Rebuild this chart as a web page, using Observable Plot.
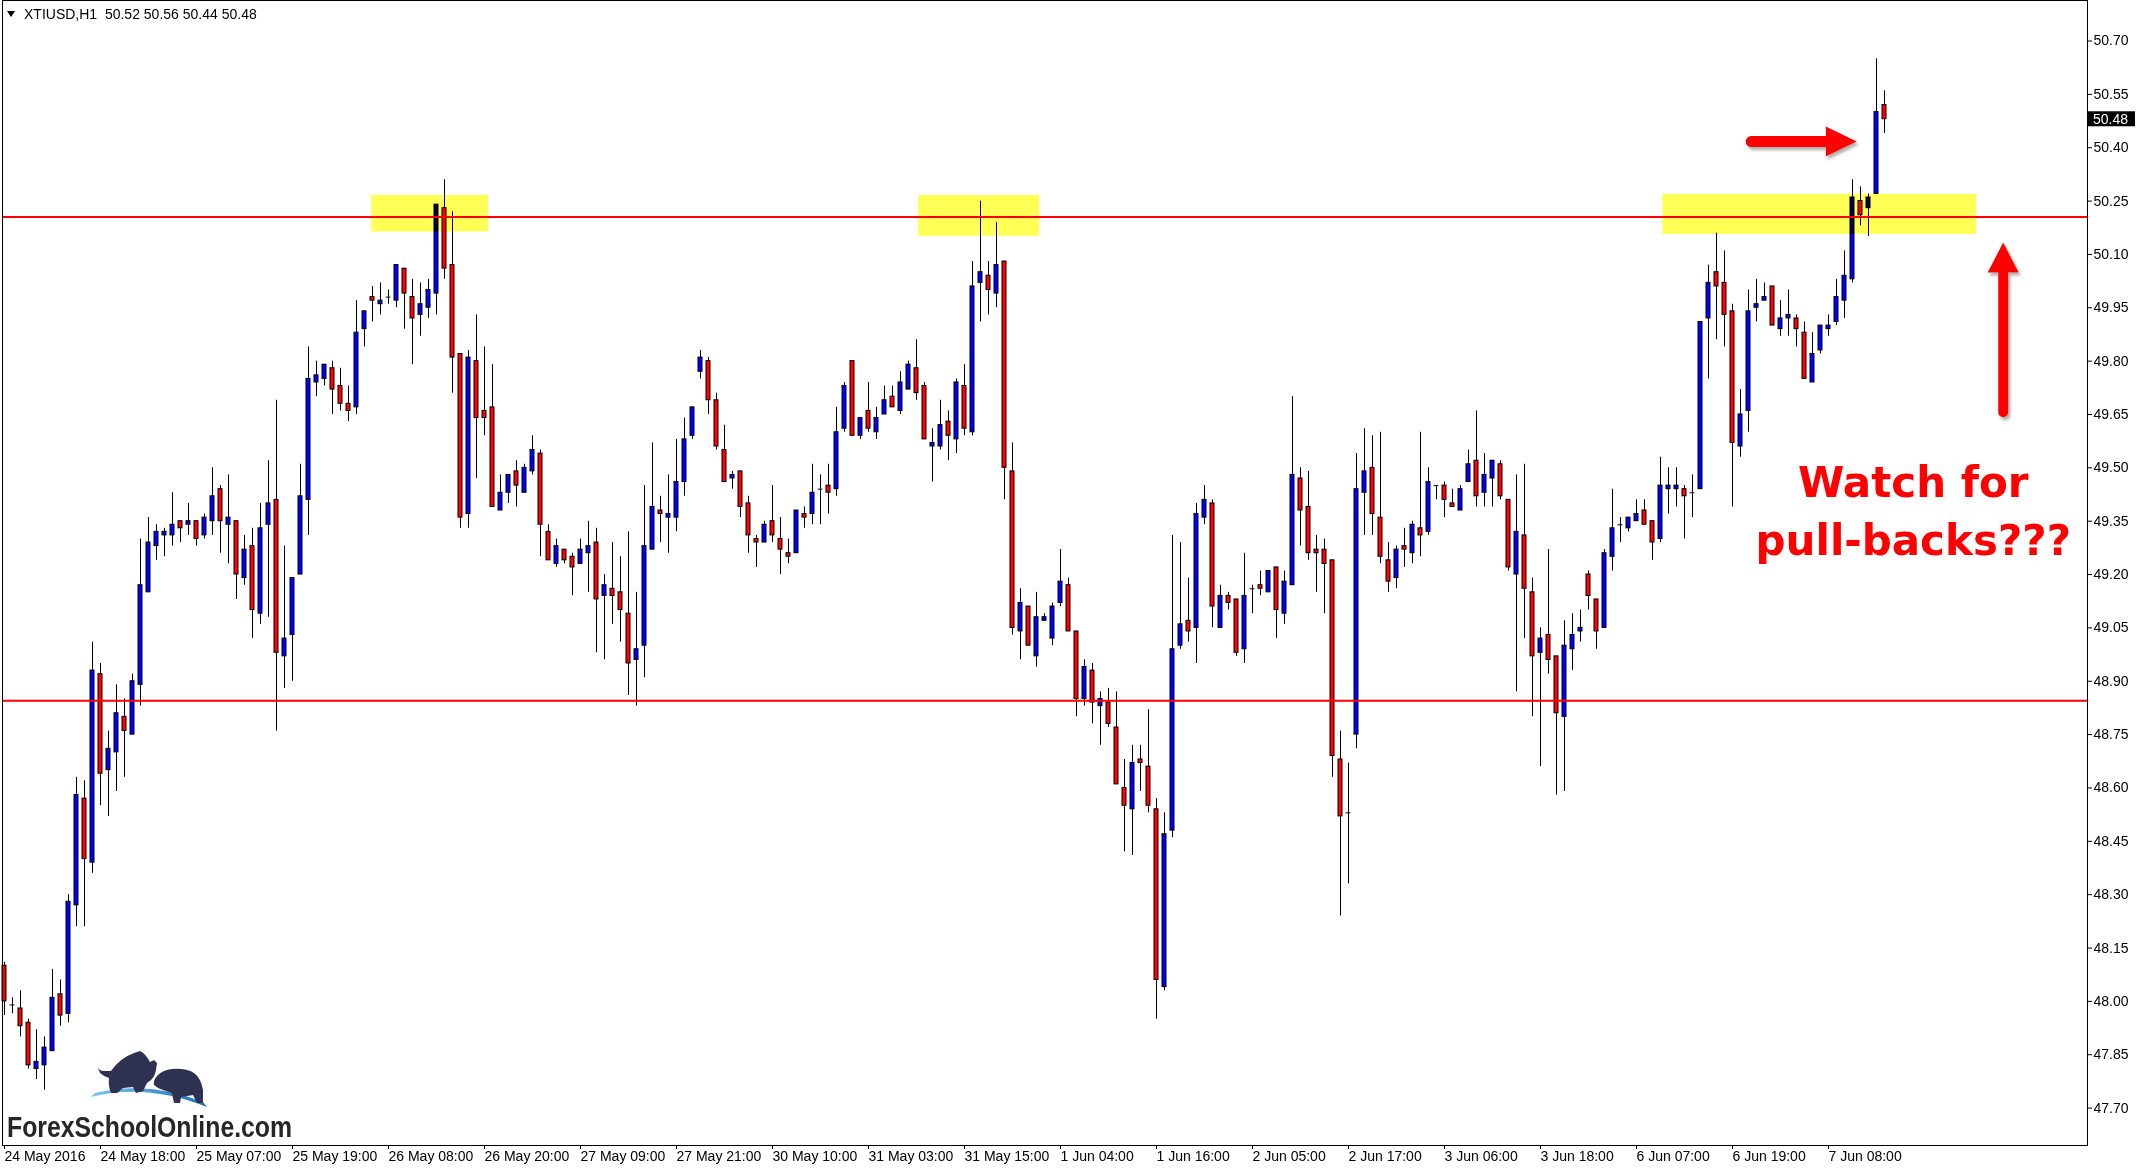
<!DOCTYPE html>
<html>
<head>
<meta charset="utf-8">
<script src="https://cdn.jsdelivr.net/npm/d3@7"></script>
<script src="https://cdn.jsdelivr.net/npm/@observablehq/plot@0.6"></script>
<style>
html,body{margin:0;padding:0;background:#fff;}
#chart{position:relative;width:2138px;height:1171px;overflow:hidden;background:#fff;}
</style>
</head>
<body>
<div id="chart"></div>
<script>
// ---- data (XTIUSD, H1) : one entry per hourly bar, index 0 = 24 May 2016 00:00 ----
const symbol = "XTIUSD,H1";
const open = [
48.10,47.99,47.98,47.94,47.81,47.82,47.86,48.02,47.965,48.27,
48.57,48.39,48.92,48.65,48.70,48.80,48.75,48.89,49.15,49.28,
49.31,49.31,49.35,49.34,49.35,49.31,49.35,49.44,49.34,49.35,
49.19,49.28,49.09,49.34,49.41,48.97,49.03,49.20,49.41,49.74,
49.75,49.78,49.73,49.68,49.67,49.89,49.98,49.96,49.98,49.97,
50.06,49.98,49.93,49.95,49.99,50.23,50.07,49.82,49.37,49.80,
49.66,49.67,49.38,49.43,49.49,49.43,49.49,49.54,49.32,49.23,
49.27,49.25,49.23,49.26,49.29,49.14,49.16,49.15,49.09,48.96,
49.00,49.27,49.38,49.36,49.36,49.46,49.59,49.77,49.80,49.69,
49.55,49.47,49.49,49.40,49.30,49.29,49.35,49.30,49.26,49.26,
49.37,49.37,49.44,49.45,49.44,49.61,49.80,49.59,49.66,49.60,
49.65,49.70,49.66,49.72,49.78,49.73,49.56,49.56,49.63,49.58,
49.73,49.60,50.02,50.04,49.99,50.08,49.49,49.04,49.11,48.97,
49.07,49.02,49.12,49.17,49.04,48.85,48.93,48.83,48.84,48.77,
48.60,48.54,48.68,48.66,48.54,48.04,48.48,49.00,49.07,49.05,
49.36,49.40,49.05,49.14,49.13,48.99,49.16,49.17,49.15,49.22,
49.09,49.17,49.47,49.39,49.27,49.27,49.24,48.68,48.53,48.75,
49.43,49.50,49.36,49.24,49.19,49.28,49.26,49.33,49.32,49.45,
49.45,49.40,49.38,49.46,49.52,49.43,49.47,49.51,49.41,49.20,
49.31,49.15,48.98,49.03,48.97,48.80,48.99,49.04,49.20,49.13,
49.05,49.25,49.34,49.33,49.35,49.38,49.35,49.30,49.44,49.44,
49.44,49.43,49.44,49.92,50.05,50.02,49.94,49.56,49.66,49.95,
49.97,50.01,49.89,49.92,49.92,49.88,49.74,49.83,49.89,49.91,
49.97,50.03,50.25,50.23,50.27,50.52];
const high = [
48.11,48.01,48.03,47.95,47.92,47.90,48.09,48.06,48.30,48.63,
48.62,49.01,48.95,48.76,48.89,48.85,48.92,49.30,49.36,49.34,
49.33,49.43,49.35,49.40,49.35,49.37,49.50,49.45,49.48,49.35,
49.31,49.33,49.40,49.52,49.69,49.28,49.19,49.51,49.84,49.80,
49.79,49.80,49.78,49.73,49.97,49.94,50.01,50.02,50.00,50.07,
50.06,50.03,50.02,50.03,50.24,50.31,50.22,49.82,49.83,49.93,
49.84,49.79,49.48,49.48,49.52,49.51,49.59,49.55,49.34,49.30,
49.27,49.26,49.30,49.35,49.33,49.20,49.29,49.25,49.32,49.15,
49.45,49.57,49.42,49.48,49.58,49.64,49.67,49.83,49.81,49.71,
49.62,49.49,49.49,49.42,49.31,49.35,49.45,49.36,49.30,49.38,
49.39,49.51,49.48,49.51,49.67,49.74,49.80,49.64,49.74,49.67,
49.73,49.73,49.77,49.80,49.86,49.74,49.61,49.69,49.66,49.75,
49.79,50.08,50.25,50.08,50.19,50.08,49.57,49.16,49.11,49.15,
49.09,49.12,49.27,49.19,49.04,48.96,48.95,48.87,48.88,48.87,
48.68,48.72,48.72,48.82,48.57,48.53,49.31,49.29,49.19,49.40,
49.45,49.41,49.17,49.15,49.13,49.26,49.17,49.21,49.21,49.22,
49.21,49.70,49.50,49.49,49.31,49.30,49.24,48.76,48.67,49.54,
49.61,49.59,49.60,49.29,49.28,49.33,49.35,49.60,49.50,49.45,
49.46,49.44,49.45,49.55,49.66,49.54,49.52,49.52,49.41,49.48,
49.51,49.19,49.05,49.27,48.97,49.07,49.09,49.10,49.21,49.13,
49.27,49.44,49.36,49.36,49.41,49.41,49.35,49.53,49.50,49.50,
49.45,49.48,49.91,50.07,50.16,50.11,49.96,49.72,50.00,50.03,
50.02,50.01,49.97,50.00,49.93,49.91,49.88,49.90,49.93,50.03,
50.11,50.31,50.29,50.27,50.65,50.56];
const low = [
47.96,47.965,47.90,47.81,47.78,47.75,47.86,47.93,47.94,48.21,
48.21,48.36,48.55,48.52,48.59,48.63,48.75,48.83,49.15,49.24,
49.25,49.28,49.29,49.31,49.28,49.30,49.31,49.26,49.23,49.13,
49.17,49.02,49.06,49.08,48.76,48.88,48.90,49.20,49.31,49.70,
49.73,49.65,49.66,49.63,49.65,49.84,49.91,49.93,49.96,49.95,
49.89,49.79,49.87,49.92,49.93,50.03,49.71,49.33,49.33,49.47,
49.59,49.39,49.38,49.40,49.39,49.43,49.48,49.25,49.24,49.22,
49.23,49.14,49.23,49.15,48.98,48.96,49.06,49.01,48.86,48.83,
48.91,49.27,49.29,49.26,49.32,49.42,49.58,49.75,49.65,49.55,
49.46,49.44,49.36,49.26,49.22,49.29,49.29,49.20,49.23,49.26,
49.33,49.34,49.34,49.37,49.42,49.60,49.59,49.58,49.60,49.58,
49.65,49.67,49.65,49.72,49.69,49.58,49.46,49.55,49.52,49.54,
49.59,49.59,49.91,49.93,49.95,49.41,49.03,48.96,49.00,48.94,
49.07,49.00,49.11,49.04,48.80,48.83,48.78,48.72,48.77,48.61,
48.42,48.41,48.59,48.53,47.95,48.03,48.46,48.99,49.01,48.95,
49.34,49.05,49.05,49.10,48.97,48.95,49.09,49.14,49.15,49.02,
49.06,49.17,49.28,49.24,49.15,49.09,48.63,48.24,48.33,48.71,
49.31,49.31,49.23,49.15,49.16,49.22,49.23,49.25,49.31,49.41,
49.36,49.39,49.38,49.46,49.39,49.39,49.39,49.41,49.21,48.87,
49.02,48.80,48.66,48.92,48.58,48.59,48.93,49.01,49.10,48.99,
49.05,49.21,49.29,49.32,49.35,49.34,49.24,49.29,49.37,49.39,
49.30,49.36,49.44,49.75,49.86,49.84,49.39,49.53,49.60,49.91,
49.97,49.90,49.87,49.87,49.84,49.75,49.74,49.82,49.87,49.90,
49.92,50.02,50.18,50.15,50.27,50.44];
const close = [
48.00,47.99,47.93,47.82,47.83,47.87,48.01,47.96,48.28,48.58,
48.40,48.93,48.64,48.71,48.81,48.76,48.90,49.17,49.29,49.32,
49.32,49.34,49.33,49.35,49.30,49.36,49.42,49.35,49.36,49.20,
49.27,49.10,49.33,49.40,48.98,49.02,49.19,49.42,49.75,49.76,
49.79,49.72,49.68,49.66,49.88,49.94,49.97,49.97,49.98,50.07,
49.99,49.92,49.96,50.00,50.24,50.06,49.81,49.36,49.81,49.64,
49.64,49.39,49.43,49.48,49.45,49.50,49.55,49.34,49.24,49.28,
49.24,49.22,49.27,49.28,49.13,49.17,49.14,49.10,48.95,48.99,
49.28,49.39,49.37,49.37,49.46,49.58,49.67,49.81,49.69,49.56,
49.46,49.48,49.39,49.31,49.29,49.34,49.31,49.27,49.25,49.38,
49.36,49.43,49.44,49.43,49.60,49.73,49.59,49.64,49.61,49.64,
49.69,49.67,49.74,49.79,49.71,49.58,49.57,49.62,49.59,49.74,
49.61,50.01,50.05,50.00,50.07,49.50,49.05,49.12,49.00,49.08,
49.08,49.11,49.18,49.04,48.85,48.94,48.84,48.85,48.78,48.61,
48.55,48.67,48.67,48.55,48.06,48.47,48.99,49.06,49.04,49.37,
49.41,49.11,49.14,49.12,48.98,49.14,49.16,49.16,49.21,49.10,
49.18,49.48,49.38,49.26,49.26,49.23,48.69,48.52,48.53,49.44,
49.49,49.37,49.25,49.18,49.27,49.27,49.34,49.31,49.46,49.45,
49.41,49.39,49.44,49.51,49.42,49.48,49.52,49.42,49.22,49.32,
49.16,48.97,49.02,48.96,48.81,49.00,49.03,49.05,49.14,49.04,
49.26,49.33,49.34,49.36,49.37,49.34,49.29,49.45,49.45,49.45,
49.42,49.43,49.91,50.02,50.01,49.93,49.57,49.65,49.94,49.96,
49.98,49.90,49.92,49.93,49.89,49.75,49.82,49.90,49.90,49.98,
50.04,50.26,50.21,50.26,50.50,50.48];

// time-axis labels, one every 12 bars
const timeLabels = ["24 May 2016","24 May 18:00","25 May 07:00","25 May 19:00","26 May 08:00",
  "26 May 20:00","27 May 09:00","27 May 21:00","30 May 10:00","31 May 03:00","31 May 15:00",
  "1 Jun 04:00","1 Jun 16:00","2 Jun 05:00","2 Jun 17:00","3 Jun 06:00","3 Jun 18:00",
  "6 Jun 07:00","6 Jun 19:00","7 Jun 08:00"];
const labelEvery = 12;
// price-axis ticks
const priceTicks = [47.70,47.85,48.00,48.15,48.30,48.45,48.60,48.75,48.90,49.05,49.20,49.35,
  49.50,49.65,49.80,49.95,50.10,50.25,50.40,50.55,50.70];
// horizontal support / resistance levels
const levels = [50.205, 48.845];
// highlighted resistance zones (bar index range, price range)
const zoneFrom = [45.9, 114.25, 207.3];
const zoneTo   = [60.5, 129.4, 246.5];
const zoneTop  = [50.266, 50.266, 50.269];
const zoneBot  = [50.163, 50.151, 50.156];

// ---- build ----
const candles = open.map((o, i) => ({i, o, h: high[i], l: low[i], c: close[i]}));
const bodies = candles.filter(d => d.o !== d.c);
const dojis = candles.filter(d => d.o === d.c);
const zones = zoneFrom.map((f, k) => ({x1: f, x2: zoneTo[k], y1: zoneBot[k], y2: zoneTop[k]}));
const labelIdx = timeLabels.map((_, k) => k * labelEvery);

const W = 2138, H = 1171, ML = 2, MR = 51, MT = 0, MB = 26;

const chart = Plot.plot({
  width: W, height: H,
  marginLeft: ML, marginRight: MR, marginTop: MT, marginBottom: MB,
  style: {fontFamily: "'Liberation Sans', Arial, sans-serif", fontSize: "14px", color: "#000", background: "#fff", overflow: "visible"},
  x: {domain: [-0.25, 260.375]},
  y: {domain: [47.5948, 50.8139]},
  color: {type: "identity"},
  marks: [
    Plot.ruleX(candles, {x: "i", y1: "l", y2: "h", stroke: "#000", strokeWidth: 1}),
    Plot.rect(bodies, {x1: d => d.i - 0.25, x2: d => d.i + 0.25, y1: "o", y2: "c",
      fill: d => d.c > d.o ? "#0000ff" : "#ff0000", stroke: "#000", strokeWidth: 1}),
    Plot.ruleY(dojis, {y: "o", x1: d => d.i - 0.3, x2: d => d.i + 0.3, stroke: "#000", strokeWidth: 1}),
    Plot.ruleY(levels, {stroke: "#ff0000", strokeWidth: 2}),
    Plot.rect(zones, {x1: "x1", x2: "x2", y1: "y1", y2: "y2", fill: "#ffff55", mixBlendMode: "multiply"}),
    Plot.axisY({anchor: "right", ticks: priceTicks, tickSize: 4, tickPadding: 2,
      tickFormat: d => d.toFixed(2), label: null, fontSize: 14}),
    Plot.axisX({anchor: "bottom", ticks: labelIdx, tickSize: 4, tickPadding: 2,
      tickFormat: d => timeLabels[d / labelEvery], textAnchor: "start", label: null, fontSize: 14}),
    Plot.frame({stroke: "#000"})
  ]
});
document.getElementById("chart").appendChild(chart);

// ---- annotations positioned through the chart's scales ----
const sx = chart.scale("x"), sy = chart.scale("y");
const X = v => sx.apply(v), Y = v => sy.apply(v);
const svg = d3.select(chart);
const last = close.length - 1;

const defs = svg.append("defs");
const f = defs.append("filter").attr("id", "shadow").attr("x", "-20%").attr("y", "-20%").attr("width", "140%").attr("height", "160%");
f.append("feDropShadow").attr("dx", 2).attr("dy", 3).attr("stdDeviation", 1.5).attr("flood-color", "#777").attr("flood-opacity", 0.6);
const grad = defs.append("linearGradient").attr("id", "swoosh").attr("x1", "0").attr("x2", "1");
grad.append("stop").attr("offset", "0").attr("stop-color", "#7cc8ef");
grad.append("stop").attr("offset", "1").attr("stop-color", "#1b6fb5");

// header
svg.append("path").attr("d", "M7,11 L15,11 L11,17 Z").attr("fill", "#000");
svg.append("text").attr("x", 24).attr("y", 19).attr("text-anchor", "start").style("white-space", "pre")
  .attr("font-size", 14).attr("fill", "#000")
  .text(`${symbol}  ${open[last].toFixed(2)} ${high[last].toFixed(2)} ${low[last].toFixed(2)} ${close[last].toFixed(2)}`);

// last-price tag
const py = Y(close[last]);
const axX = W - MR;
svg.append("rect").attr("x", axX + 1).attr("y", py - 7.5).attr("width", 47).attr("height", 15).attr("fill", "#000");
svg.append("text").attr("x", axX + 6).attr("y", py + 5).attr("text-anchor", "start")
  .attr("fill", "#fff").attr("font-size", 14).text(close[last].toFixed(2));

// right-pointing arrow
{
  const y0 = Y(50.416), xt = X(218.4), xh = X(231.6);
  const g = svg.append("g").attr("filter", "url(#shadow)");
  g.append("line").attr("x1", xt).attr("x2", xh - 28).attr("y1", y0).attr("y2", y0)
    .attr("stroke", "#ff0000").attr("stroke-width", 11).attr("stroke-linecap", "round");
  g.append("path").attr("d", `M${xh - 31},${y0 - 15} L${xh},${y0} L${xh - 31},${y0 + 15} Z`).attr("fill", "#ff0000");
}
// up-pointing arrow
{
  const x0 = X(249.9), yt = Y(50.132), yb = Y(49.655);
  const g = svg.append("g").attr("filter", "url(#shadow)");
  g.append("line").attr("x1", x0).attr("x2", x0).attr("y1", yb).attr("y2", yt + 27)
    .attr("stroke", "#ff0000").attr("stroke-width", 10).attr("stroke-linecap", "round");
  g.append("path").attr("d", `M${x0 - 15.5},${yt + 30} L${x0},${yt} L${x0 + 15.5},${yt + 30} Z`).attr("fill", "#ff0000");
}
// note text
const noteX = X(238.66);
[["Watch for", 49.4174], ["pull-backs???", 49.2535]].forEach(([t, p]) => {
  svg.append("text").attr("x", noteX).attr("y", Y(p)).attr("text-anchor", "middle")
    .attr("font-family", "'DejaVu Sans', sans-serif").attr("font-weight", "bold")
    .attr("font-size", 42).attr("fill", "#ff0000").text(t);
});

// logo (bottom-left)
{
  const g = svg.append("g");
  g.append("path").attr("fill", "url(#swoosh)")
    .attr("d", "M91,1097 Q146,1083 207,1107 L203,1102 Q148,1080 95,1093 Z");
  g.append("path").attr("fill", "#2f3152")
    .attr("d", "M97,1066 Q99,1071 104,1071 L111,1071 Q120,1058 134,1053 L140,1051 Q146,1054 150,1062 L154,1060 L157,1063 L156,1070 Q155,1076 151,1080 L147,1083 L143,1091 L136,1093 L133,1087 L123,1088 L117,1093 L111,1093 Q108,1086 109,1078 Q103,1076 100,1073 Z");
  g.append("path").attr("fill", "#2f3152")
    .attr("d", "M158,1075 Q163,1070 172,1069 Q186,1068 194,1073 Q201,1078 203,1090 L203,1103 L197,1103 L193,1095 L181,1097 L180,1103 L174,1103 L172,1093 L163,1090 Q157,1088 154,1085 Q153,1080 158,1075 Z");
  g.append("text").attr("x", 7).attr("y", 1137).attr("text-anchor", "start")
    .attr("font-family", "'Liberation Sans Narrow', 'Liberation Sans', Arial, sans-serif")
    .attr("font-weight", "bold").attr("font-size", 30).attr("fill", "#262626")
    .attr("textLength", 285).attr("lengthAdjust", "spacingAndGlyphs")
    .text("ForexSchoolOnline.com");
}
</script>
</body>
</html>
